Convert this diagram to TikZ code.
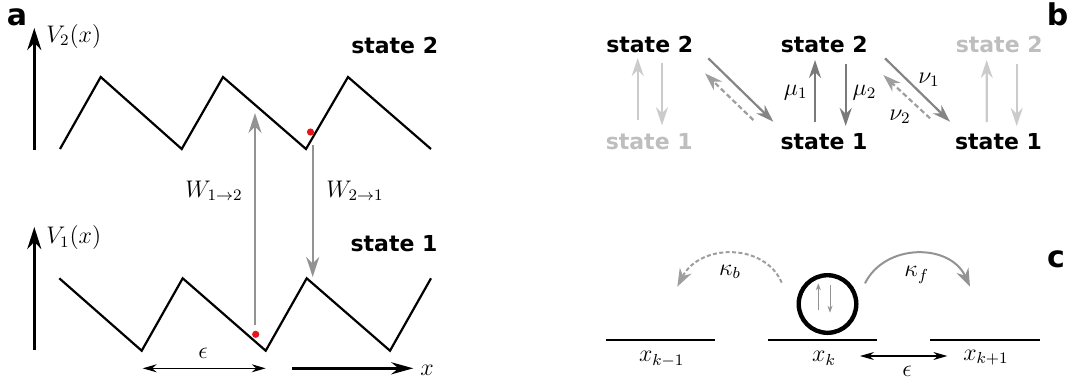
\documentclass[tikz,border=0pt]{standalone}
\usepackage{fontspec}
\setsansfont{DejaVu Sans}
\usetikzlibrary{arrows.meta}
\usepackage{amsmath}
\definecolor{jumpgray}{HTML}{939393}
\definecolor{rategray}{HTML}{7A7A7A}
\definecolor{diaggray}{HTML}{858585}
\definecolor{dashgray}{HTML}{9E9E9E}
\definecolor{palegray}{HTML}{CBCBCB}
\definecolor{fadetext}{HTML}{BEBEBE}
\definecolor{dotred}{HTML}{E8141B}

\begin{document}
\begin{tikzpicture}[x=0.5pt, y=-0.5pt,
  panel/.style={font=\sffamily\bfseries\fontsize{15}{15}\selectfont, inner sep=0pt},
  statelbl/.style={font=\sffamily\bfseries\fontsize{11}{13}\selectfont, inner sep=0pt, anchor=base},
  faded/.style={statelbl, text=fadetext},
  mlabel/.style={font=\fontsize{12}{14}\selectfont, inner sep=0pt, anchor=base},
  axis/.style={-{Stealth[length=11pt, width=7pt]}, line width=1.5pt},
  pot/.style={line width=1.1pt, line join=miter},
  jump/.style={-{Stealth[length=10pt, width=6.5pt]}, line width=1.1pt, jumpgray},
  rate/.style={-{Stealth[length=9pt, width=6pt]}, line width=1.1pt, rategray},
  pale/.style={rate, palegray},
  diag/.style={rate, diaggray},
  back/.style={rate, dashgray, dash pattern=on 2.5pt off 1.5pt},
  spacing/.style={{Stealth[length=7pt, width=4pt]}-{Stealth[length=7pt, width=4pt]}, line width=0.6pt},
  dot/.style={circle, fill=dotred, inner sep=0pt, minimum size=3.6pt},
  site/.style={line width=1.1pt},
  hop/.style={-{Stealth[length=9pt, width=6.5pt]}, line width=1pt, jumpgray},
  spin/.style={-{Stealth[length=3.5pt, width=2.5pt]}, line width=0.5pt, jumpgray}
]
  \useasboundingbox (0,0) rectangle (1075,382);

  \node[panel] (lbla) at (17,17) {a};
  \node[panel] (lblb) at (1057.5,14) {b};
  \node[panel] (lblc) at (1056,259) {c};

  \coordinate (v2base) at (34.3,150);
  \coordinate (v2tip) at (34.3,28);
  \coordinate (v1base) at (34.3,350);
  \coordinate (v1tip) at (34.3,227);
  \draw[axis] (v2base) -- (v2tip);
  \draw[axis] (v1base) -- (v1tip);
  \node[mlabel, anchor=base west] (v2lbl) at (46,42) {$V_2(x)$};
  \node[mlabel, anchor=base west] (v1lbl) at (46,243.5) {$V_1(x)$};

  \draw[pot] (60,149) -- (100.7,77) -- (181.7,149) -- (223,77) -- (306,149) -- (348,77) -- (431,149);
  \draw[pot] (59.3,278.3) -- (141.7,350.7) -- (182.7,278.3) -- (265.7,350.7) -- (306.7,278.3) -- (390,350.7) -- (431,278.3);

  \node[statelbl] (top2) at (394.7,53) {state 2};
  \node[statelbl] (bot1) at (394,251.7) {state 1};

  \node[dot] (pdown) at (255.7,334.3) {};
  \node[dot] (pup) at (310.5,132) {};
  \coordinate (w12tip) at (255,113);
  \coordinate (w21tip) at (312.7,277);
  \draw[jump] ([shift={(-0.7,-9)}]pdown.center) -- (w12tip);
  \draw[jump] ([shift={(2.2,13)}]pup.center) -- (w21tip);
  \node[mlabel] (w12) at (214,197.3) {$W_{1\to 2}$};
  \node[mlabel] (w21) at (355,197.3) {$W_{2\to 1}$};

  \coordinate (epsl) at (142.7,368.3);
  \coordinate (epsr) at (265.7,368.3);
  \draw[spacing] (epsl) -- (epsr);
  \node[mlabel] (epsa) at (203,358) {$\epsilon$};
  \coordinate (xbase) at (292.3,368.3);
  \coordinate (xtip) at (413.3,368.3);
  \draw[axis, -{Stealth[length=11pt, width=6pt]}] (xbase) -- (xtip);
  \node[mlabel] (xlbl) at (427,375) {$x$};

  \node[statelbl] (s2a) at (649.7,52.7) {state 2};
  \node[statelbl] (s2b) at (824.2,52.7) {state 2};
  \node[faded] (s2c) at (999.2,52.7) {state 2};
  \node[faded] (s1a) at (649.2,149.3) {state 1};
  \node[statelbl] (s1b) at (824,149.3) {state 1};
  \node[statelbl] (s1c) at (998.5,149.3) {state 1};

  \draw[pale] ([shift={(-11.5,-29)}]s1a.base) -- ([shift={(-12,5.3)}]s2a.base);
  \draw[pale] ([shift={(12.3,10.3)}]s2a.base) -- ([shift={(12.8,-24)}]s1a.base);
  \draw[rate] ([shift={(-9,-27.3)}]s1b.base) -- ([shift={(-9.2,7.3)}]s2b.base);
  \draw[rate] ([shift={(21.5,11.3)}]s2b.base) -- ([shift={(21.7,-23.3)}]s1b.base);
  \draw[pale] ([shift={(-11.8,-27.3)}]s1c.base) -- ([shift={(-12.5,7.3)}]s2c.base);
  \draw[pale] ([shift={(17.5,11.3)}]s2c.base) -- ([shift={(18.2,-23.3)}]s1c.base);
  \node[mlabel] (mu1) at (795.8,95) {$\mu_1$};
  \node[mlabel] (mu2) at (864.5,95) {$\mu_2$};

  \draw[diag] ([shift={(58.6,5.6)}]s2a.base) -- ([shift={(-50.7,-27.6)}]s1b.base);
  \draw[back] ([shift={(-70.7,-29.3)}]s1b.base) -- ([shift={(55.3,20.6)}]s2a.base);
  \draw[diag] ([shift={(60.8,5.6)}]s2b.base) -- ([shift={(-48.5,-27.6)}]s1c.base);
  \draw[back] ([shift={(-68.5,-31)}]s1c.base) -- ([shift={(59.1,22.3)}]s2b.base);
  \node[mlabel] (nu1) at (929,83.3) {$\nu_1$};
  \node[mlabel] (nu2) at (900,120) {$\nu_2$};

  \draw[site] (606,340) -- (715,340);
  \draw[site] (768.3,340) -- (876.7,340);
  \draw[site] (930,340) -- (1040,340);
  \node[mlabel] (xkm) at (661.7,361.7) {$x_{k-1}$};
  \node[mlabel] (xk) at (824,361.7) {$x_k$};
  \node[mlabel] (xkp) at (986,360) {$x_{k+1}$};
  \coordinate (epscl) at (860,356);
  \coordinate (epscr) at (947.3,356);
  \draw[spacing] (epscl) -- (epscr);
  \node[mlabel] (epsc) at (907,376.7) {$\epsilon$};

  \node[circle, draw, line width=2.2pt, minimum size=28.8pt, inner sep=0pt] (ball) at (827.5,304) {};
  \draw[spin] ([shift={(-9.2,6)}]ball.center) -- ([shift={(-9.2,-20.7)}]ball.center);
  \draw[spin] ([shift={(2.5,-19)}]ball.center) -- ([shift={(2.5,8.7)}]ball.center);

  \coordinate (bwd) at (677.3,286.7);
  \coordinate (fwd) at (970,286.7);
  \draw[hop, dashgray, dash pattern=on 2pt off 1.2pt] ([shift={(-45.8,-21.3)}]ball.center) .. controls (765,243) and (700,243) .. (bwd);
  \draw[hop] ([shift={(37.5,-20.7)}]ball.center) .. controls (885,243) and (950,243) .. (fwd);
  \node[mlabel] (kb) at (730,275) {$\kappa_b$};
  \node[mlabel] (kf) at (916.7,276.7) {$\kappa_f$};
\end{tikzpicture}
\end{document}
